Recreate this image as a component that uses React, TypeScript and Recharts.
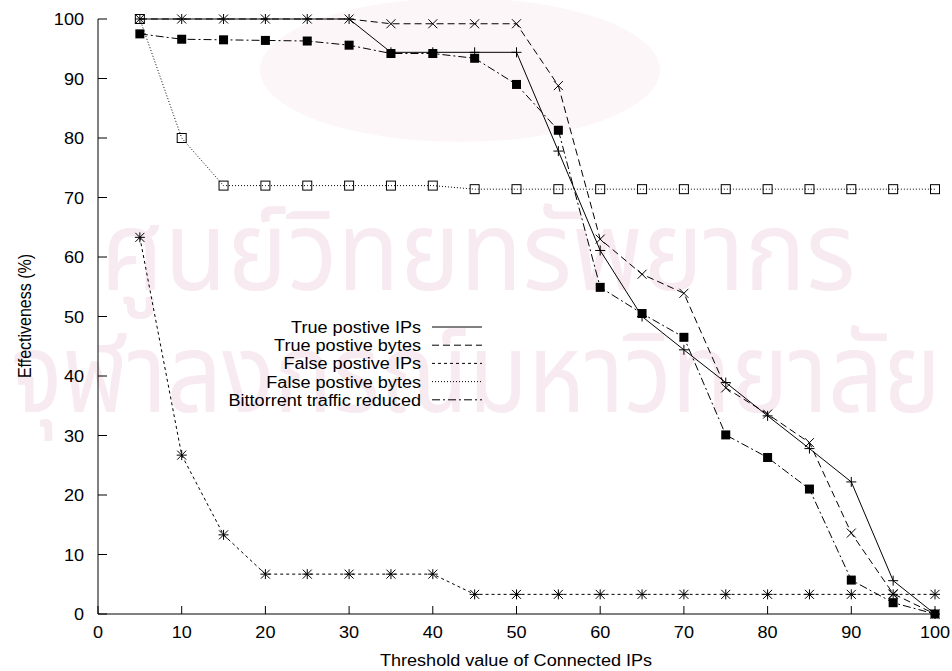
import React from 'react';
import { LineChart, Line, XAxis, YAxis, Legend } from 'recharts';

// ─── Data ─────────────────────────────────────────────────────────────────────

const thresholds = [5, 10, 15, 20, 25, 30, 35, 40, 45, 50, 55, 60, 65, 70, 75, 80, 85, 90, 95, 100];

const truePosIps = [100, 100, 100, 100, 100, 100, 94.4, 94.4, 94.4, 94.4, 77.8, 61.1, 50, 44.4, 38.9, 33.3, 27.8, 22.2, 5.6, 0];
const truePosBytes = [100, 100, 100, 100, 100, 100, 99.2, 99.2, 99.2, 99.2, 88.8, 63, 57.1, 53.9, 38, 33.6, 28.8, 13.6, 3.4, 0];
const falsePosIps = [63.3, 26.7, 13.3, 6.7, 6.7, 6.7, 6.7, 6.7, 3.3, 3.3, 3.3, 3.3, 3.3, 3.3, 3.3, 3.3, 3.3, 3.3, 3.3, 3.3];
const falsePosBytes = [100, 80, 72, 72, 72, 72, 72, 72, 71.4, 71.4, 71.4, 71.4, 71.4, 71.4, 71.4, 71.4, 71.4, 71.4, 71.4, 71.4];
const btReduced = [97.5, 96.6, 96.5, 96.4, 96.3, 95.6, 94.2, 94.2, 93.4, 89, 81.3, 54.9, 50.5, 46.5, 30.1, 26.3, 21, 5.7, 1.9, 0];

const xTicks = [0, 10, 20, 30, 40, 50, 60, 70, 80, 90, 100];
const yTicks = [0, 10, 20, 30, 40, 50, 60, 70, 80, 90, 100];

const chartData = thresholds.map((t, i) => ({
  t,
  tpIps: truePosIps[i],
  tpBytes: truePosBytes[i],
  fpIps: falsePosIps[i],
  fpBytes: falsePosBytes[i],
  bt: btReduced[i],
}));

const series = [
  { key: 'tpIps', name: 'True postive IPs', dash: undefined, mark: 'plus' },
  { key: 'tpBytes', name: 'True postive bytes', dash: '7 4', mark: 'cross' },
  { key: 'fpIps', name: 'False postive IPs', dash: '3 3', mark: 'star' },
  { key: 'fpBytes', name: 'False postive bytes', dash: '1 2', mark: 'box' },
  { key: 'bt', name: 'Bittorrent traffic reduced', dash: '8 3 2 3', mark: 'boxFilled' },
];

const FONT = '"Liberation Sans", Arial, Helvetica, sans-serif';
const STRETCH = 1.13;

// ─── Markers ──────────────────────────────────────────────────────────────────

function Marker({ cx, cy, mark }: { cx: number; cy: number; mark: string }) {
  const r = 5;
  const d = 4.5;
  if (mark === 'plus') {
    return (
      <g stroke="#000" strokeWidth={1}>
        <line x1={cx - r} x2={cx + r} y1={cy} y2={cy} />
        <line x1={cx} x2={cx} y1={cy - r} y2={cy + r} />
      </g>
    );
  }
  if (mark === 'cross') {
    return (
      <g stroke="#000" strokeWidth={1}>
        <line x1={cx - d} x2={cx + d} y1={cy - d} y2={cy + d} />
        <line x1={cx - d} x2={cx + d} y1={cy + d} y2={cy - d} />
      </g>
    );
  }
  if (mark === 'star') {
    return (
      <g stroke="#000" strokeWidth={1}>
        <line x1={cx - r} x2={cx + r} y1={cy} y2={cy} />
        <line x1={cx} x2={cx} y1={cy - r} y2={cy + r} />
        <line x1={cx - d} x2={cx + d} y1={cy - d} y2={cy + d} />
        <line x1={cx - d} x2={cx + d} y1={cy + d} y2={cy - d} />
      </g>
    );
  }
  if (mark === 'box') {
    return <rect x={cx - 4.5} y={cy - 4.5} width={9} height={9} fill="none" stroke="#000" strokeWidth={1} />;
  }
  return <rect x={cx - 4.5} y={cy - 4.5} width={9} height={9} fill="#000" />;
}

// ─── Ticks ────────────────────────────────────────────────────────────────────

function YTick({ x, y, payload }: any) {
  return (
    <g>
      <line x1={x} x2={x + 9} y1={y} y2={y} stroke="#000" strokeWidth={1} />
      <g transform={`translate(${x - 14},${y + 6}) scale(${STRETCH},1)`}>
        <text x={0} y={0} textAnchor="end" fontFamily={FONT} fontSize={16} fill="#000">
          {payload.value}
        </text>
      </g>
    </g>
  );
}

function XTick({ x, y, payload }: any) {
  return (
    <g>
      <line x1={x} x2={x} y1={y} y2={y - 8} stroke="#000" strokeWidth={1} />
      <g transform={`translate(${x},${y + 24}) scale(${STRETCH},1)`}>
        <text x={0} y={0} textAnchor="middle" fontFamily={FONT} fontSize={16} fill="#000">
          {payload.value}
        </text>
      </g>
    </g>
  );
}

// ─── Legend ───────────────────────────────────────────────────────────────────

function KeyBox() {
  const textRight = 421;
  const lineX1 = 432;
  const lineX2 = 482;
  const top = 327;
  const step = 18.2;
  return (
    <svg width={952} height={671} style={{ position: 'absolute', left: 0, top: 0 }}>
      {series.map((s, i) => {
        const cy = top + i * step;
        return (
          <g key={s.key}>
            <g transform={`translate(${textRight},${cy + 6}) scale(${STRETCH},1)`}>
              <text x={0} y={0} textAnchor="end" fontFamily={FONT} fontSize={16} fill="#000">
                {s.name}
              </text>
            </g>
            <line x1={lineX1} x2={lineX2} y1={cy} y2={cy} stroke="#000" strokeWidth={1} strokeDasharray={s.dash} />
          </g>
        );
      })}
    </svg>
  );
}

// ─── Watermark ────────────────────────────────────────────────────────────────

function Watermark() {
  return (
    <svg width={952} height={671} style={{ position: 'absolute', left: 0, top: 0 }}>
      <ellipse cx={460} cy={70} rx={200} ry={72} fill="#fdf6f9" />
      <text x={478} y={290} textAnchor="middle" fontSize={110} fill="#f7eaf0"
        textLength={755} lengthAdjust="spacingAndGlyphs"
        fontFamily='"Noto Sans Thai", Loma, Garuda, "DejaVu Sans", sans-serif'>
        ศูนย์วิทยทรัพยากร
      </text>
      <text x={476} y={412} textAnchor="middle" fontSize={110} fill="#f7eaf0"
        textLength={930} lengthAdjust="spacingAndGlyphs"
        fontFamily='"Noto Sans Thai", Loma, Garuda, "DejaVu Sans", sans-serif'>
        จุฬาลงกรณ์มหาวิทยาลัย
      </text>
    </svg>
  );
}

// ─── Componente ───────────────────────────────────────────────────────────────

export default function App() {
  return (
    <div style={{ position: 'absolute', left: 0, top: 0, width: 952, height: 671, background: '#fff' }}>
      <Watermark />
      <div style={{ position: 'absolute', left: 0, top: 0 }}>
        <LineChart width={952} height={671} data={chartData} margin={{ top: 19, right: 17, left: 0, bottom: 0 }}>
          <XAxis
            dataKey="t"
            type="number"
            domain={[0, 100]}
            ticks={xTicks}
            tick={<XTick />}
            tickLine={false}
            tickSize={0}
            tickMargin={0}
            height={57}
            axisLine={{ stroke: '#000', strokeWidth: 1 }}
          />
          <YAxis
            type="number"
            domain={[0, 100]}
            ticks={yTicks}
            tick={<YTick />}
            tickLine={false}
            tickSize={0}
            tickMargin={0}
            width={98}
            axisLine={{ stroke: '#000', strokeWidth: 1 }}
          />
          <Legend layout="vertical" align="center" verticalAlign="middle" content={() => <KeyBox />}
            wrapperStyle={{ left: 0, top: 0, width: 952, height: 671, pointerEvents: 'none' }} />
          {series.map((s) => (
            <Line
              key={s.key}
              dataKey={s.key}
              name={s.name}
              type="linear"
              stroke="#000"
              strokeWidth={1}
              strokeDasharray={s.dash}
              isAnimationActive={false}
              activeDot={false}
              dot={(p: any) => <Marker key={`${s.key}-${p.index}`} cx={p.cx} cy={p.cy} mark={s.mark} />}
            />
          ))}
        </LineChart>
        <svg width={952} height={671} style={{ position: 'absolute', left: 0, top: 0, pointerEvents: 'none' }}>
          <g transform={`translate(516,666) scale(${STRETCH},1)`}>
            <text x={0} y={0} textAnchor="middle" fontFamily={FONT} fontSize={16} fill="#000">
              Threshold value of Connected IPs
            </text>
          </g>
          <g transform={`translate(31,316) scale(${STRETCH},1) rotate(-90)`}>
            <text x={0} y={0} textAnchor="middle" fontFamily={FONT} fontSize={16} fill="#000">
              Effectiveness (%)
            </text>
          </g>
        </svg>
      </div>
    </div>
  );
}
